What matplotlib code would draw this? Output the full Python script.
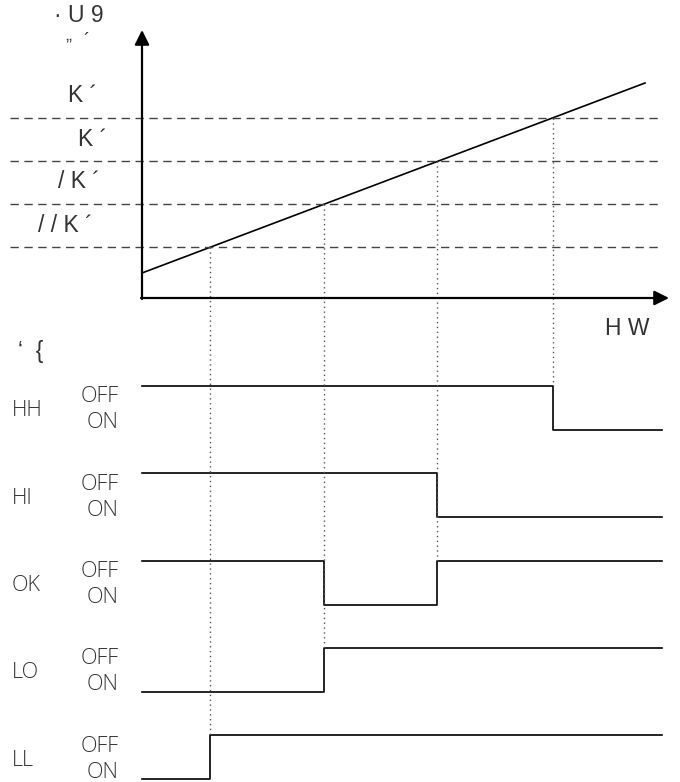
import matplotlib
matplotlib.use('Agg')
import matplotlib.pyplot as plt

# level vs time graph
line_t = [0, 503]
line_level = [25, 215]
thresholds = [51, 94, 137, 180]          # LL, LO, HI, HH
thr_labels = ['/ / K ´', '/ K ´', 'K ´', 'K ´']
cross_t = [68, 182, 295, 411]            # where the level passes each threshold
cross_row = [4, 3, 2, 0]                 # lowest row that switches at that time

# switch signals
sig_names = ['HH', 'HI', 'OK', 'LO', 'LL']
sig_start = ['OFF', 'OFF', 'OFF', 'ON', 'ON']
sig_switch = [[411], [295], [182, 295], [182], [68]]
t_end = 520

fig = plt.figure(figsize=(6.8, 7.82), dpi=100)
ax = fig.add_axes([0, 0, 1, 1])
ax.set_xlim(-142, 538)
ax.set_ylim(-484, 298)
ax.axis('off')

txt = '#333333'
jp = dict(family=['Liberation Sans', 'DejaVu Sans'], color=txt)
lt = dict(family=['Open Sans', 'DejaVu Sans'], weight='light', color=txt)

# axes arrows
ax.annotate('', xy=(0, 268), xytext=(0, -1),
            arrowprops=dict(arrowstyle='-|>', mutation_scale=22, lw=1.6, color='k', shrinkA=0, shrinkB=0))
ax.annotate('', xy=(527, 0), xytext=(-1, 0),
            arrowprops=dict(arrowstyle='-|>', mutation_scale=22, lw=1.6, color='k', shrinkA=0, shrinkB=0))

ax.plot(line_t, line_level, color='k', lw=1.2)

label_x = [-104, -84, -64, -74]
for thr, lab, lx in zip(thresholds, thr_labels, label_x):
    ax.plot([-132, 518], [thr, thr], color='#444444', lw=1.0, ls=(0, (6, 4)))
    ax.text(lx, thr + 22, lab, fontsize=16.5, ha='left', va='center', **jp)

ax.text(-88, 282, '· U 9', fontsize=16.5, ha='left', va='center', **jp)
ax.text(-77, 259, '„', fontsize=13, ha='left', va='baseline', **jp)
ax.text(-59, 252, '´', fontsize=13, ha='left', va='baseline', **jp)
ax.text(463, -31, 'H W', fontsize=16.5, ha='left', va='center', **jp)
ax.text(-124, -54, '‘  {', fontsize=16.5, ha='left', va='center', **jp)

# timing rows
row_gap = 87.3
row_high = [-88 - row_gap * i for i in range(len(sig_names))]
swing = 44

for i, (name, st, sw) in enumerate(zip(sig_names, sig_start, sig_switch)):
    hi_y = row_high[i]
    lo_y = hi_y - swing
    ts = [0] + sw + [t_end]
    state = st
    xs, ys = [], []
    for a, b in zip(ts[:-1], ts[1:]):
        y = hi_y if state == 'OFF' else lo_y
        xs += [a, b]
        ys += [y, y]
        state = 'ON' if state == 'OFF' else 'OFF'
    ax.plot(xs, ys, color='k', lw=1.2)
    ax.text(-130, hi_y - 25, name, fontsize=15.5, ha='left', va='center', **lt)
    ax.text(-23, hi_y - 11, 'OFF', fontsize=15.5, ha='right', va='center', **lt)
    ax.text(-23, hi_y - 37, 'ON', fontsize=15.5, ha='right', va='center', **lt)

# dotted drop lines
for t, thr, r in zip(cross_t, thresholds, cross_row):
    ax.plot([t, t], [thr, row_high[r]], color='#555555', lw=1.0, ls=(0, (1, 2.5)))

fig.savefig('out.png', dpi=100, facecolor='white')
